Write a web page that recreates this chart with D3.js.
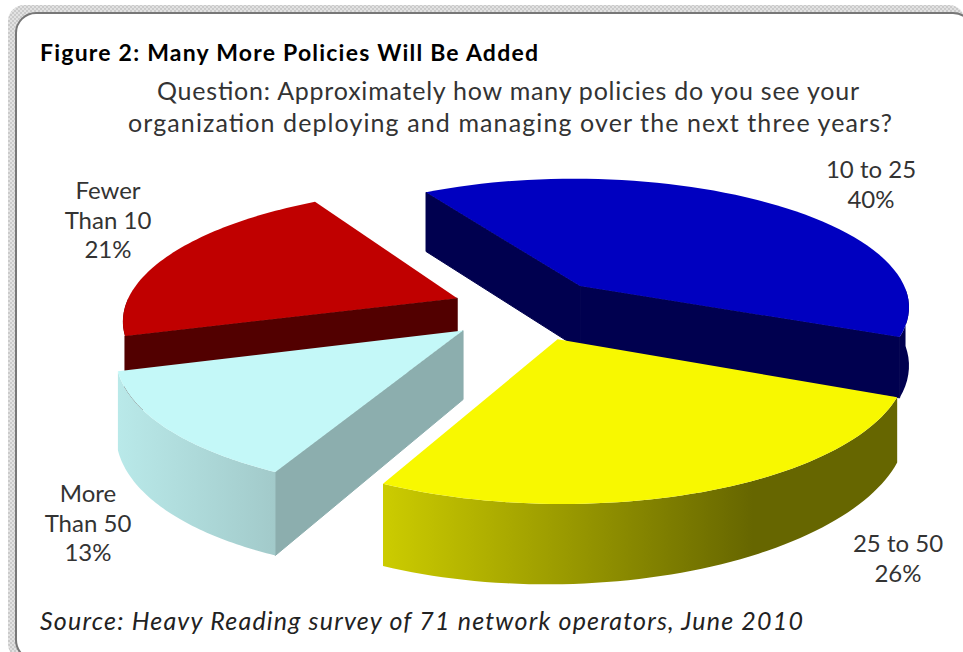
<!DOCTYPE html>
<html>
<head>
<meta charset="utf-8">
<script src="https://cdn.jsdelivr.net/npm/d3@7"></script>
<style>
  html, body { margin: 0; padding: 0; background: #fff; }
  svg { display: block; }
  text { font-family: Lato, "Noto Sans", sans-serif; }
</style>
</head>
<body>
<script>
const categories = ['10 to 25', '25 to 50', 'More Than 50', 'Fewer Than 10']
const values = [40, 26, 13, 21]
const topColors = ['#0000c0', '#f8f800', '#c4f8f8', '#c00000']
const sideColors = ['#00004f', '#666600', '#8caeae', '#520000']
const wallStops = [['#00004f', '#00004f'], ['#cccc00', '#666600'], ['#b9e9e9', '#a2caca'], ['#520000', '#520000']]
const explodes = [80, 80, 84, 78]
const drawOrder = [0, 3, 2, 1]

const width = 963, height = 652
const cx = 529, cy = 309, R = 333, tilt = 0.39, perspY = 0.15, depthFall = 0.1, depth = 66

const svg = d3.select('body').append('svg').attr('width', width).attr('height', height)
const defs = svg.append('defs')

// hatched frame
const hatch = defs.append('pattern').attr('id', 'hatch')
    .attr('width', 4).attr('height', 4).attr('patternUnits', 'userSpaceOnUse')
hatch.append('rect').attr('width', 4).attr('height', 4).attr('fill', '#e2e2e2')
hatch.append('rect').attr('width', 2).attr('height', 2).attr('fill', '#cacaca')
hatch.append('rect').attr('x', 2).attr('y', 2).attr('width', 2).attr('height', 2).attr('fill', '#cacaca')

svg.append('rect').attr('x', 8).attr('y', 5).attr('width', 957).attr('height', 655).attr('rx', 16)
    .attr('fill', 'url(#hatch)')
svg.append('rect').attr('x', 16).attr('y', 13).attr('width', 957).attr('height', 647).attr('rx', 20)
    .attr('fill', '#fff').attr('stroke', '#777').attr('stroke-width', 2)

// ground plane -> screen, nearer points get bigger, walls get shorter to the right
function project(X, Y, Z) {
    const s = 1 / (1 - perspY * Y / R)
    return [cx + s * X, cy + s * (tilt * Y + Z * (1 - depthFall * X / R))]
}

const pie = d3.pie().sort(null)
    .startAngle(-31 * Math.PI / 180)
    .endAngle(329 * Math.PI / 180)
const arcs = pie(values)
const line = d3.line()
const toTheta = a => a - Math.PI / 2

const plot = svg.append('g')

drawOrder.forEach(i => {
    const d = arcs[i]
    const t0 = toTheta(d.startAngle), t1 = toTheta(d.endAngle), mid = (t0 + t1) / 2
    const ox = explodes[i] * Math.cos(mid), oy = explodes[i] * Math.sin(mid)
    const angle = d3.scaleLinear().domain([0, 60]).range([t0, t1])
    const steps = d3.range(61).map(angle)
    const rim = (t, z) => project(ox + R * Math.cos(t), oy + R * Math.sin(t), z)
    const apex = z => project(ox, oy, z)

    // straight cut faces, only the ones turned to the viewer
    if (Math.cos(t0) < 0) plot.append('path')
        .attr('d', line([apex(0), rim(t0, 0), rim(t0, depth), apex(depth)]) + 'Z')
        .attr('fill', sideColors[i]).attr('stroke', sideColors[i]).attr('stroke-width', 1)
    if (Math.cos(t1) > 0) plot.append('path')
        .attr('d', line([apex(0), rim(t1, 0), rim(t1, depth), apex(depth)]) + 'Z')
        .attr('fill', sideColors[i]).attr('stroke', sideColors[i]).attr('stroke-width', 1)

    // curved outer wall
    const front = steps.filter(t => Math.sin(t) > 0)
    if (front.length > 1) {
        const pts = front.map(t => rim(t, 0)).concat(front.slice().reverse().map(t => rim(t, depth)))
        const ext = d3.extent(pts, p => p[0])
        const grad = defs.append('linearGradient').attr('id', 'wall' + i)
            .attr('gradientUnits', 'userSpaceOnUse')
            .attr('x1', ext[0]).attr('x2', ext[1]).attr('y1', 0).attr('y2', 0)
        stopsFor(i).forEach(st => grad.append('stop').attr('offset', st[0]).attr('stop-color', st[1]))
        plot.append('path').attr('d', line(pts) + 'Z').attr('fill', 'url(#wall' + i + ')')
    }

    // top
    plot.append('path')
        .attr('d', line([apex(0)].concat(steps.map(t => rim(t, 0)))) + 'Z')
        .attr('fill', topColors[i])
})

function stopsFor(i) {
    const s = wallStops[i]
    return i === 1 ? [[0, s[0]], [0.72, s[1]], [1, s[1]]] : [[0, s[0]], [1, s[1]]]
}

// text
const title = 'Figure 2: Many More Policies Will Be Added'
const question = ['Question: Approximately how many policies do you see your',
    'organization deploying and managing over the next three years?']
const source = 'Source: Heavy Reading survey of 71 network operators, June 2010'
const labelAnchors = [[871, 178], [898, 552], [88, 502], [108, 199]]

svg.append('text').attr('x', 40).attr('y', 61).text(title)
    .attr('font-size', 23).attr('font-weight', 700).attr('fill', '#000')
    .attr('textLength', 498).attr('lengthAdjust', 'spacing')

svg.append('text').attr('x', 157).attr('y', 100).text(question[0])
    .attr('font-size', 25).attr('fill', '#333')
    .attr('textLength', 702).attr('lengthAdjust', 'spacing')
svg.append('text').attr('x', 128).attr('y', 132).text(question[1])
    .attr('font-size', 25).attr('fill', '#333')
    .attr('textLength', 764).attr('lengthAdjust', 'spacing')

svg.append('text').attr('x', 40).attr('y', 630).text(source)
    .attr('font-size', 25).attr('font-style', 'italic').attr('fill', '#222')
    .attr('textLength', 763).attr('lengthAdjust', 'spacing')

categories.forEach((c, i) => {
    const words = c.split(' ')
    const lines = c.includes(' to ') ? [c] : [words[0], words.slice(1).join(' ')]
    lines.push(values[i] + '%')
    svg.append('g').selectAll('text').data(lines).join('text')
        .attr('x', labelAnchors[i][0])
        .attr('y', (l, j) => labelAnchors[i][1] + j * 29.5)
        .attr('text-anchor', 'middle')
        .attr('font-size', 24)
        .attr('fill', '#333')
        .text(l => l)
})
</script>
</body>
</html>
